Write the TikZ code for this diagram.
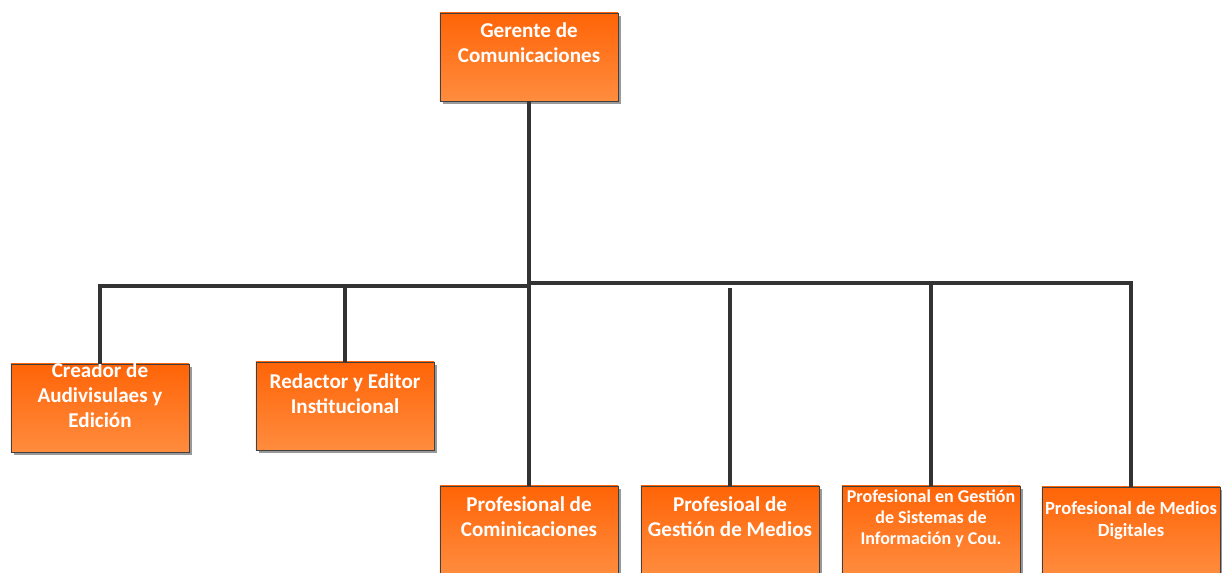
\documentclass[tikz,border=0pt]{standalone}
\usepackage{fontspec}
\setmainfont{Carlito}
\usetikzlibrary{positioning,shadows}
\definecolor{naranjaTop}{HTML}{FF6407}
\definecolor{naranjaBot}{HTML}{FF8C3E}
\definecolor{borde}{HTML}{404040}
\definecolor{linea}{HTML}{333333}
\tikzset{
	cargo/.style={
		rectangle,
		draw=borde, thin,
		top color=naranjaTop,
		bottom color=naranjaBot,
		minimum width=4.45cm,
		minimum height=2.2cm,
		drop shadow={shadow xshift=0.08cm, shadow yshift=-0.08cm, fill=black!40, opacity=1}},
	rotulo/.style={
		text=white, font=\bfseries\fontsize{15}{17.8}\selectfont,
		align=center, inner sep=0pt},
	rotulochico/.style={rotulo, font=\bfseries\fontsize{12.8}{15.2}\selectfont},
	bus/.style={draw=linea, line width=2.3pt},
}
\begin{document}
\begin{tikzpicture}[x=0.025cm, y=-0.025cm]
	\useasboundingbox (0,0) rectangle (1222,572);

	% Cajas del organigrama (nivel superior, intermedio e inferior)
	\node[cargo] (gerente) at (529,57) {};
	\node[cargo] (creador) at (100,408) {};
	\node[cargo] (redactor) at (345,406) {};
	\node[cargo] (profcom) at (529,530) {};
	\node[cargo] (gestmed) at (730,530) {};
	\node[cargo] (sistemas) at (931,530) {};
	\node[cargo] (digitales) at (1131,531) {};

	% Textos de cada caja, algo por encima del centro
	\node[rotulo] (tgerente) at ([yshift=-0.76cm]gerente.north) {Gerente de\\Comunicaciones};
	\node[rotulo] (tcreador) at ([yshift=-0.78cm]creador.north) {Creador de\\Audivisulaes y\\Edición};
	\node[rotulo] (tredactor) at ([yshift=-0.8cm]redactor.north) {Redactor y Editor\\Institucional};
	\node[rotulo] (tprofcom) at ([yshift=-0.78cm]profcom.north) {Profesional de\\Cominicaciones};
	\node[rotulo] (tgestmed) at ([yshift=-0.78cm]gestmed.north) {Profesioal de\\Gestión de Medios};
	\node[rotulochico] (tsistemas) at ([yshift=-0.82cm]sistemas.north) {Profesional en Gestión\\de Sistemas de\\Información y Cou.};
	\node[rotulochico, font=\bfseries\fontsize{13.2}{16}\selectfont] (tdigitales) at ([yshift=-0.84cm]digitales.north) {Profesional de Medios\\Digitales};

	% Puntos del bus horizontal
	\coordinate (busizq) at (529,286);
	\coordinate (busder) at (529,283);

	% Conectores
	\draw[bus] (gerente.south) -- (profcom.north);
	\draw[bus] (creador.north) |- (busizq);
	\draw[bus] (redactor.north) -- (redactor.north |- busizq);
	\draw[bus] (busder) -| (digitales.north);
	\draw[bus] (gestmed.north) -- ([yshift=-0.12cm]gestmed.north |- busder);
	\draw[bus] (sistemas.north) -- (sistemas.north |- busder);
\end{tikzpicture}
\end{document}
